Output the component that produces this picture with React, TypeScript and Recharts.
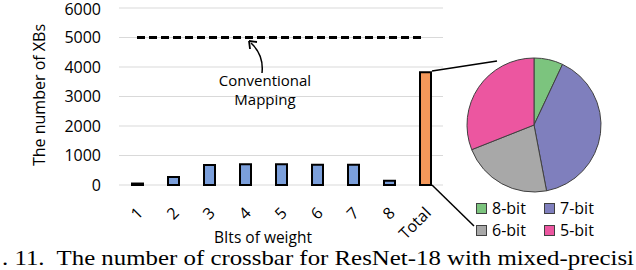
import React from "react";
import {
  ComposedChart, Bar, XAxis, YAxis, CartesianGrid, ReferenceLine, Cell,
  PieChart, Pie, Legend,
} from "recharts";

const bitLabels = ["1", "2", "3", "4", "5", "6", "7", "8", "Total"];
const xbCounts = [50, 275, 680, 700, 700, 690, 690, 140, 3820];
const yTicks = [0, 1000, 2000, 3000, 4000, 5000, 6000];
const conventionalXBs = 5000;

const pieNames = ["8-bit", "7-bit", "6-bit", "5-bit"];
const pieShares = [7, 40, 22, 31];
const pieColors = ["#7cc47e", "#7f7fbd", "#a8a8a8", "#ec56a0"];

const FONT = "'Open Sans', sans-serif";

const barData = bitLabels.map((label, i) => ({ label, count: xbCounts[i] }));
const pieData = pieNames.map((name, i) => ({ name, value: pieShares[i] }));

const XTick = (props: any) => {
  const { x, y, payload } = props;
  return (
    <text
      transform={`translate(${x + 7},${y + 21}) rotate(-45)`}
      textAnchor="end"
      fontFamily={FONT}
      fontSize={16}
      fill="#000"
    >
      {payload.value}
    </text>
  );
};

const PieLegend = () => (
  <div
    style={{
      display: "grid",
      gridTemplateColumns: "68px 70px",
      rowGap: 2,
      fontFamily: FONT,
      fontSize: 16,
      lineHeight: "20px",
      color: "#000",
    }}
  >
    {pieData.map((d, i) => (
      <div key={d.name} style={{ display: "flex", alignItems: "center" }}>
        <span
          style={{
            width: 9,
            height: 9,
            background: pieColors[i],
            border: "1px solid #404040",
            marginRight: 5,
          }}
        />
        {d.name}
      </div>
    ))}
  </div>
);

export default function App() {
  return (
    <div style={{ position: "absolute", left: 0, top: 0, width: 636, height: 270, background: "#fff", overflow: "hidden" }}>
      <ComposedChart
        width={636}
        height={270}
        data={barData}
        margin={{ top: 8, right: 193, left: 0, bottom: 0 }}
      >
        <CartesianGrid vertical={false} stroke="#d9d9d9" strokeWidth={1} />
        <XAxis
          dataKey="label"
          height={85}
          axisLine={false}
          tickLine={false}
          interval={0}
          tick={<XTick />}
        />
        <YAxis
          width={119}
          domain={[0, 6000]}
          ticks={yTicks}
          axisLine={false}
          tickLine={false}
          tickMargin={12}
          tick={{ fontFamily: FONT, fontSize: 16, fill: "#000" }}
        />
        <Bar dataKey="count" barSize={11} stroke="#000" strokeWidth={2} isAnimationActive={false}>
          {barData.map((d) => (
            <Cell key={d.label} fill={d.label === "Total" ? "#f4985a" : "#7b9fdb"} />
          ))}
        </Bar>
        <ReferenceLine
          segment={[
            { x: "1", y: conventionalXBs },
            { x: "Total", y: conventionalXBs },
          ]}
          stroke="#000"
          strokeWidth={3}
          strokeDasharray="8 4"
        />
      </ComposedChart>

      <div style={{ position: "absolute", left: 0, top: 0 }}>
        <PieChart width={636} height={270} margin={{ top: 0, right: 0, bottom: 0, left: 0 }}>
          <Pie
            data={pieData}
            dataKey="value"
            nameKey="name"
            cx={534}
            cy={125}
            outerRadius={67}
            startAngle={90}
            endAngle={-270}
            stroke="#404040"
            strokeWidth={1}
            isAnimationActive={false}
          >
            {pieData.map((d, i) => (
              <Cell key={d.name} fill={pieColors[i]} />
            ))}
          </Pie>
          <Legend
            content={<PieLegend />}
            wrapperStyle={{ left: 476, top: 198, width: 150, bottom: "auto" }}
          />
        </PieChart>
      </div>

      <svg width={636} height={270} style={{ position: "absolute", left: 0, top: 0, pointerEvents: "none" }}>
        <line x1={432} y1={71} x2={497} y2={61} stroke="#000" strokeWidth={1.5} />
        <line x1={432} y1={185} x2={474} y2={226} stroke="#000" strokeWidth={1.5} />
        <path d="M262 73 Q264 55 251 43" fill="none" stroke="#000" strokeWidth={1.5} />
        <path d="M249 41 L250 49 M249 41 L257 42" fill="none" stroke="#000" strokeWidth={1.8} />
        <text x={265} y={86} textAnchor="middle" fontFamily={FONT} fontSize={15}>Conventional</text>
        <text x={265} y={105} textAnchor="middle" fontFamily={FONT} fontSize={15}>Mapping</text>
        <text x={263} y={243} textAnchor="middle" fontFamily={FONT} fontSize={15.5}>BIts of weight</text>
        <text
          transform="translate(45,95) rotate(-90)"
          textAnchor="middle"
          fontFamily={FONT}
          fontSize={16}
        >
          The number of XBs
        </text>
        <text
          x={2}
          y={265}
          fontFamily="'Liberation Serif', serif"
          fontSize={21}
          textLength={632}
          lengthAdjust="spacingAndGlyphs"
          style={{ whiteSpace: "pre" }}
        >
          {". 11.  The number of crossbar for ResNet-18 with mixed-precisi"}
        </text>
      </svg>
    </div>
  );
}
